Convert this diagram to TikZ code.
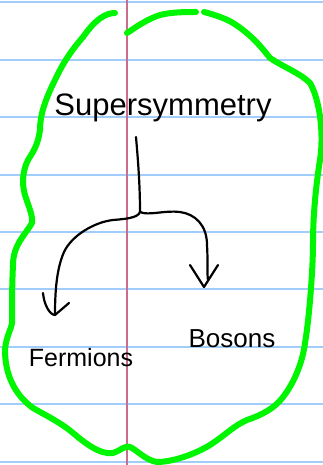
\documentclass[tikz,border=0pt]{standalone}
\usepackage{fontspec}
\setmainfont{Liberation Sans}
\definecolor{ruleblue}{RGB}{160,205,250}
\definecolor{marginred}{RGB}{200,110,140}
\definecolor{loopgreen}{RGB}{0,245,0}
\tikzset{
  ruled/.style={ruleblue,line width=1.8pt},
  margin/.style={marginred,line width=1.4pt},
  loopline/.style={loopgreen,line width=6pt,line cap=round,line join=round},
  inkline/.style={black,line width=2.2pt,line cap=round,line join=round},
  label/.style={inner sep=0pt,text=black},
}
\begin{document}
\begin{tikzpicture}[x=1pt,y=-1pt]
\useasboundingbox (0,0) rectangle (323,465);
\fill[white] (0,0) rectangle (323,465);
% ruled paper
\foreach \yy in {2,60,117,175,232,289,347,404,462}
  \draw[ruled] (0,\yy) -- (323,\yy);
\draw[margin] (127,0) -- (127,465);
% green loop, main piece
\draw[loopline] (115,13) .. controls (105,13) and (95,20) .. (83,37)
  .. controls (70,52) and (62,65) .. (55,80)
  .. controls (45,100) and (40,115) .. (40,130)
  .. controls (38,145) and (33,152) .. (28,160)
  .. controls (22,172) and (22,185) .. (25,195)
  .. controls (28,205) and (33,215) .. (32,223)
  .. controls (25,235) and (13,245) .. (13,265)
  .. controls (12,285) and (12,305) .. (12,320)
  .. controls (13,327) and (6,335) .. (5,350)
  .. controls (5,375) and (15,395) .. (33,408)
  .. controls (45,415) and (60,422) .. (73,433)
  .. controls (85,443) and (100,455) .. (113,453)
  .. controls (120,451) and (125,445) .. (130,447)
  .. controls (137,450) and (145,460) .. (157,462)
  .. controls (175,462) and (200,452) .. (213,443)
  .. controls (225,435) and (235,425) .. (247,420)
  .. controls (262,415) and (275,408) .. (283,397)
  .. controls (295,382) and (303,360) .. (305,343)
  .. controls (309,320) and (313,270) .. (313,243)
  .. controls (313,215) and (316,185) .. (320,160)
  .. controls (324,135) and (320,100) .. (310,83)
  .. controls (300,73) and (285,68) .. (270,58)
  .. controls (262,48) and (252,35) .. (233,23)
  .. controls (225,18) and (212,14) .. (204,12);
% green loop, top piece
\draw[loopline] (127,33) .. controls (135,28) and (145,20) .. (160,15)
  .. controls (172,12) and (185,12) .. (196,12);
% text
\node[label,font=\fontsize{31}{31}\selectfont] (susy) at (163,108) {Supersymmetry};
\node[label,font=\fontsize{25}{25}\selectfont] (ferm) at (81,358) {Fermions};
\node[label,font=\fontsize{26}{26}\selectfont] (bos) at (232,339) {Bosons};
% arrows
\coordinate (stem) at (136,137);
\coordinate (fork) at (140,212);
\coordinate (ftip) at (55,315);
\coordinate (fl) at (43,293);
\coordinate (fr) at (69,303);
\coordinate (btip) at (204,287);
\coordinate (bl) at (190,265);
\coordinate (br) at (218,265);
\draw[inkline] (stem) .. controls (138,160) and (140,185) .. (fork);
\draw[inkline] (fork) .. controls (138,218) and (125,219) .. (113,220)
  .. controls (95,222) and (72,235) .. (64,252)
  .. controls (56,270) and (55,295) .. (ftip);
\draw[inkline] (fl) .. controls (44,305) and (50,315) .. (ftip) -- (fr);
\draw[inkline] (fork) .. controls (148,216) and (165,210) .. (180,212)
  .. controls (195,214) and (207,225) .. (207,245)
  .. controls (208,260) and (207,275) .. (208,280);
\draw[inkline] (bl) -- (btip) -- (br);
\end{tikzpicture}
\end{document}
